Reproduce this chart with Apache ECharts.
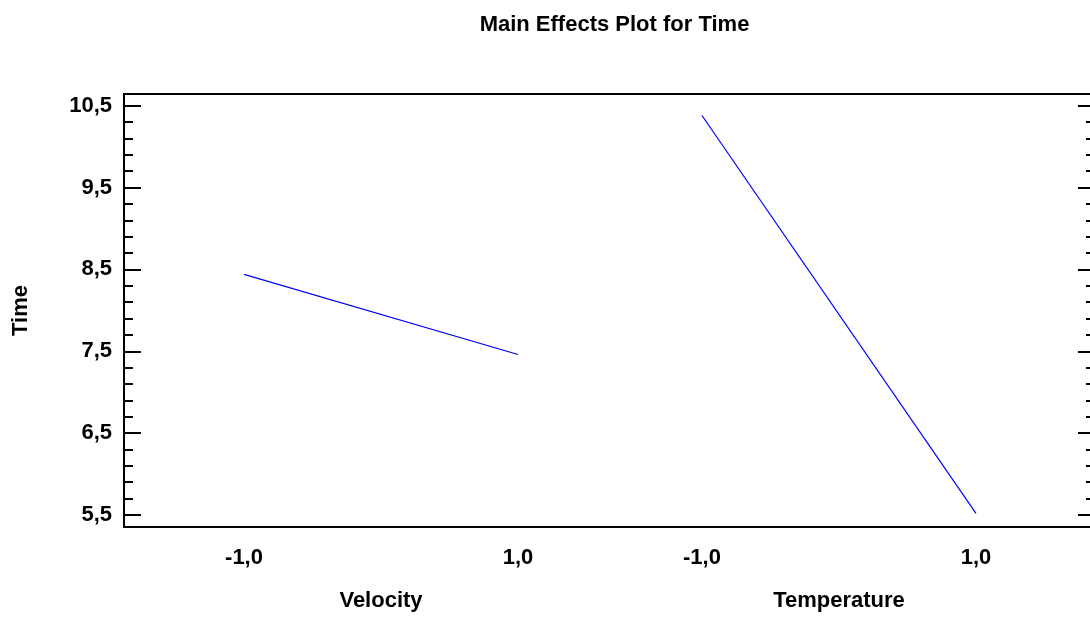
<!DOCTYPE html>
<html>
<head>
<meta charset="utf-8">
<title>Main Effects Plot for Time</title>
<script src="https://cdn.jsdelivr.net/npm/echarts@6/dist/echarts.min.js"></script>
<style>
  html, body { margin: 0; padding: 0; background: #fff; overflow: hidden; }
  #chart { width: 1090px; height: 620px; }
</style>
</head>
<body>
<div id="chart"></div>
<script>
// Main effects of two factors on Time (coded levels -1 / +1)
const factorNames = ['Velocity', 'Temperature'];
const factorLevels = [-1, 1];
const velocityMeans = [8.44, 7.46];
const temperatureMeans = [10.38, 5.52];

// Y axis tick values
const majorTicks = [5.5, 6.5, 7.5, 8.5, 9.5, 10.5];
const minorTicks = [5.7, 5.9, 6.1, 6.3, 6.7, 6.9, 7.1, 7.3, 7.7, 7.9, 8.1, 8.3,
                    8.7, 8.9, 9.1, 9.3, 9.7, 9.9, 10.1, 10.3];

// Layout: each factor panel is centred on its own position along a shared x scale
const factorCenters = [1.876, 5.219];
const X_MAX = 7.088;
const Y_MIN = 5.353, Y_MAX = 10.643;
const PLOT_LEFT = 124, PLOT_WIDTH = 971;

const FONT = '"Liberation Sans", Arial, Helvetica, sans-serif';
const FS = 22;
const fmt = v => v.toFixed(1).replace('.', ',');

const levelPositions = [];
const levelText = {};
factorCenters.forEach(c => factorLevels.forEach(l => {
  const p = +(c + l).toFixed(3);
  levelPositions.push(p);
  levelText[p] = fmt(l);
}));
const nameText = {};
factorCenters.forEach((c, i) => { nameText[c] = factorNames[i]; });

const seriesMeans = [velocityMeans, temperatureMeans];

function yAxisDef(position, ticks, len, withLabels) {
  return {
    type: 'value', position: position, min: Y_MIN, max: Y_MAX,
    axisLine: { show: false },
    splitLine: { show: false },
    axisTick: { show: true, inside: true, length: len, customValues: ticks,
                lineStyle: { color: '#000', width: 2 } },
    axisLabel: withLabels ? {
      show: true, customValues: majorTicks, formatter: v => fmt(v),
      fontFamily: FONT, fontWeight: 'bold', fontSize: FS, color: '#000', margin: 12
    } : { show: false }
  };
}

const yAxes = [
  Object.assign(yAxisDef('left', majorTicks, 17, true), {
    name: 'Time', nameLocation: 'middle', nameGap: 92, nameRotate: 90,
    nameTextStyle: { fontFamily: FONT, fontWeight: 'bold', fontSize: FS, color: '#000' }
  }),
  yAxisDef('left', minorTicks, 9, false),
  yAxisDef('right', majorTicks, 17, false),
  yAxisDef('right', minorTicks, 9, false)
];

const chart = echarts.init(document.getElementById('chart'), null, { renderer: 'canvas' });
chart.setOption({
  animation: false,
  backgroundColor: '#fff',
  title: {
    text: 'Main Effects Plot for Time', left: PLOT_LEFT + PLOT_WIDTH / 2, top: 9,
    textAlign: 'center',
    textStyle: { fontFamily: FONT, fontWeight: 'bold', fontSize: FS, color: '#000' }
  },
  grid: {
    left: PLOT_LEFT, width: PLOT_WIDTH, top: 94, bottom: 93,
    outerBoundsMode: 'none', containLabel: false,
    show: true, borderColor: '#000', borderWidth: 2, backgroundColor: 'transparent'
  },
  xAxis: [
    {
      type: 'value', min: 0, max: X_MAX, position: 'bottom',
      axisLine: { show: false }, axisTick: { show: false }, splitLine: { show: false },
      axisLabel: { customValues: levelPositions, formatter: v => levelText[+v.toFixed(3)] || '',
        fontFamily: FONT, fontWeight: 'bold', fontSize: FS, color: '#000', margin: 20 }
    },
    {
      type: 'value', min: 0, max: X_MAX, position: 'bottom',
      axisLine: { show: false }, axisTick: { show: false }, splitLine: { show: false },
      axisLabel: { customValues: factorCenters, formatter: v => nameText[+v.toFixed(3)] || '',
        fontFamily: FONT, fontWeight: 'bold', fontSize: FS, color: '#000', margin: 63 }
    }
  ],
  yAxis: yAxes,
  series: factorCenters.map((c, i) => ({
    type: 'line', name: factorNames[i], xAxisIndex: 0, yAxisIndex: 0,
    data: factorLevels.map((l, j) => [c + l, seriesMeans[i][j]]),
    symbol: 'none', lineStyle: { color: '#0000ff', width: 1.2 }
  }))
});
</script>
</body>
</html>
